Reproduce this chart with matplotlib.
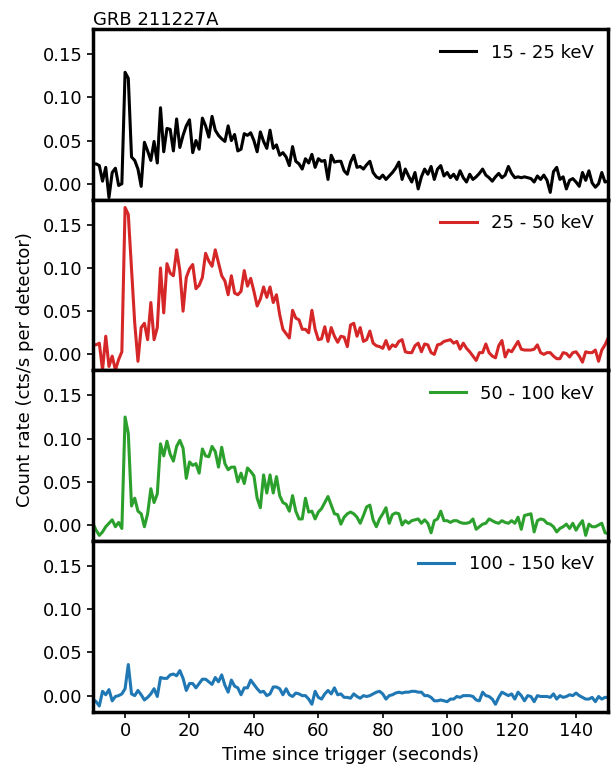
import numpy as np
import matplotlib
matplotlib.use("Agg")
import matplotlib.pyplot as plt

time = np.arange(-10, 151, 1)

rate_15_25 = [
    0.023, 0.023, 0.021, 0.003, 0.019, -0.016, 0.013, 0.018, -0.002, 0.000,
    0.129, 0.122, 0.031, 0.027, 0.017, -0.003, 0.048, 0.038, 0.027, 0.049,
    0.024, 0.088, 0.037, 0.064, 0.063, 0.038, 0.075, 0.042, 0.056, 0.067,
    0.074, 0.036, 0.050, 0.040, 0.076, 0.067, 0.054, 0.078, 0.062, 0.056,
    0.052, 0.049, 0.067, 0.050, 0.057, 0.038, 0.040, 0.058, 0.056, 0.059,
    0.050, 0.037, 0.060, 0.049, 0.041, 0.062, 0.041, 0.045, 0.033, 0.036,
    0.031, 0.021, 0.043, 0.026, 0.023, 0.017, 0.029, 0.024, 0.034, 0.019,
    0.029, 0.026, 0.027, 0.005, 0.033, 0.025, 0.026, 0.026, 0.015, 0.011,
    0.025, 0.033, 0.019, 0.020, 0.017, 0.022, 0.026, 0.013, 0.008, 0.006,
    0.010, 0.005, 0.009, 0.013, 0.018, 0.025, 0.005, 0.017, 0.009, 0.002,
    0.013, -0.006, 0.008, 0.017, 0.011, 0.020, 0.005, 0.017, 0.021, 0.009,
    0.013, 0.007, 0.011, 0.005, 0.015, 0.007, 0.002, 0.011, 0.005, 0.008,
    0.012, 0.017, 0.010, 0.007, 0.003, 0.008, 0.012, 0.007, 0.010, 0.020,
    0.012, 0.007, 0.008, 0.007, 0.008, 0.007, 0.006, 0.002, 0.009, 0.005,
    0.010, 0.004, -0.010, 0.014, 0.019, 0.005, 0.008, -0.006, 0.004, 0.006,
    0.002, -0.003, 0.013, 0.004, 0.015, 0.001, -0.004, 0.000, 0.013, 0.002,
    0.003,
]

rate_25_50 = [
    0.012, 0.011, 0.013, -0.018, 0.021, -0.014, -0.002, -0.018, -0.006, 0.003,
    0.170, 0.162, 0.098, 0.036, -0.008, 0.031, 0.036, 0.017, 0.060, 0.017,
    0.031, 0.100, 0.048, 0.105, 0.094, 0.091, 0.121, 0.097, 0.050, 0.089,
    0.099, 0.104, 0.076, 0.080, 0.089, 0.117, 0.108, 0.102, 0.121, 0.106,
    0.091, 0.085, 0.069, 0.091, 0.071, 0.069, 0.073, 0.097, 0.079, 0.088,
    0.073, 0.056, 0.064, 0.078, 0.066, 0.078, 0.060, 0.069, 0.046, 0.029,
    0.024, 0.019, 0.051, 0.042, 0.040, 0.029, 0.029, 0.025, 0.051, 0.029,
    0.017, 0.018, 0.032, 0.015, 0.031, 0.021, 0.014, 0.021, 0.020, 0.009,
    0.034, 0.036, 0.021, 0.031, 0.015, 0.017, 0.027, 0.013, 0.010, 0.009,
    0.007, 0.016, 0.006, 0.011, 0.009, 0.015, 0.017, 0.003, 0.002, 0.002,
    0.010, 0.013, 0.003, 0.012, 0.011, 0.002, 0.000, 0.011, 0.012, 0.015,
    0.016, 0.017, 0.013, 0.015, 0.006, 0.013, 0.007, 0.003, -0.002, -0.007,
    0.002, 0.002, 0.012, 0.002, -0.002, -0.004, 0.010, 0.016, -0.003, 0.005,
    0.003, 0.009, 0.015, 0.006, 0.005, 0.005, 0.005, 0.006, 0.011, 0.002,
    0.000, 0.002, 0.002, -0.002, -0.005, -0.005, 0.002, 0.001, -0.003, 0.002,
    0.003, -0.002, -0.009, 0.003, 0.002, 0.002, 0.005, -0.008, 0.005, 0.011,
    0.019,
]

rate_50_100 = [
    0.002, -0.006, -0.012, -0.008, -0.002, 0.002, 0.006, -0.002, 0.003, -0.004,
    0.125, 0.106, 0.022, 0.031, 0.016, 0.013, -0.002, 0.013, 0.042, 0.026,
    0.036, 0.094, 0.080, 0.097, 0.082, 0.074, 0.091, 0.098, 0.089, 0.054,
    0.073, 0.069, 0.071, 0.060, 0.088, 0.080, 0.079, 0.091, 0.085, 0.067,
    0.090, 0.071, 0.064, 0.067, 0.067, 0.050, 0.060, 0.048, 0.066, 0.062,
    0.057, 0.031, 0.020, 0.058, 0.037, 0.058, 0.037, 0.056, 0.034, 0.026,
    0.024, 0.016, 0.034, 0.016, 0.007, 0.007, 0.031, 0.015, 0.016, 0.007,
    0.015, 0.019, 0.026, 0.033, 0.023, 0.013, 0.012, 0.001, 0.009, 0.013,
    0.015, 0.013, 0.009, 0.002, 0.011, 0.021, 0.023, 0.006, -0.002, 0.007,
    0.013, 0.020, 0.002, 0.012, 0.014, 0.013, 0.000, 0.005, 0.002, 0.005,
    0.006, 0.007, 0.002, 0.006, 0.002, -0.009, 0.005, 0.007, 0.016, 0.005,
    0.005, 0.003, 0.005, 0.005, 0.003, 0.002, 0.002, 0.003, 0.007, -0.005,
    -0.002, 0.001, 0.002, 0.007, 0.005, 0.003, 0.002, 0.005, 0.003, 0.002,
    0.005, 0.002, 0.009, -0.005, 0.011, 0.012, 0.013, -0.008, 0.005, 0.007,
    0.006, 0.002, 0.001, -0.002, -0.008, -0.004, -0.002, 0.001, -0.004, 0.002,
    -0.006, 0.000, 0.005, -0.012, 0.001, -0.002, -0.002, 0.000, 0.002, -0.009,
    -0.010,
]

rate_100_150 = [
    -0.004, -0.007, -0.012, 0.005, 0.001, 0.007, -0.006, -0.001, 0.000, 0.002,
    0.008, 0.036, 0.002, 0.000, 0.006, 0.001, -0.005, -0.002, 0.002, 0.008,
    -0.001, 0.021, 0.020, 0.020, 0.024, 0.025, 0.023, 0.029, 0.020, 0.006,
    0.014, 0.014, 0.009, 0.014, 0.019, 0.019, 0.016, 0.013, 0.021, 0.016,
    0.024, 0.012, 0.004, 0.018, 0.011, 0.009, 0.001, 0.009, 0.009, 0.018,
    0.013, 0.008, 0.004, 0.005, 0.000, 0.002, 0.010, 0.010, 0.008, 0.001,
    0.008, 0.001, -0.001, 0.003, 0.002, 0.000, 0.000, -0.004, -0.010, 0.005,
    -0.002, -0.004, 0.002, 0.006, 0.002, 0.009, 0.001, 0.002, -0.002, -0.002,
    -0.003, 0.002, -0.001, -0.003, 0.000, -0.001, 0.000, 0.002, 0.004, 0.005,
    0.002, -0.004, 0.000, 0.001, 0.003, 0.004, 0.003, 0.004, 0.004, 0.005,
    0.005, 0.004, 0.004, 0.000, 0.000, -0.002, -0.006, -0.006, -0.005, -0.006,
    -0.007, -0.004, -0.004, -0.001, -0.002, 0.000, 0.000, 0.000, -0.001, -0.005,
    -0.006, 0.004, 0.000, -0.001, -0.004, -0.010, -0.002, 0.004, 0.002, 0.000,
    0.002, -0.004, 0.004, 0.000, -0.006, 0.000, -0.001, -0.007, 0.000, -0.001,
    -0.001, -0.001, -0.002, 0.002, -0.004, 0.000, -0.002, -0.001, 0.001, 0.000,
    0.003, 0.000, -0.002, -0.004, -0.004, -0.002, -0.007, -0.001, -0.004, -0.002,
    -0.002,
]

series = [rate_15_25, rate_25_50, rate_50_100, rate_100_150]
labels = ["15 - 25 keV", "25 - 50 keV", "50 - 100 keV", "100 - 150 keV"]
colors = ["black", "#d62728", "#2ca02c", "#1f77b4"]
yticks = [0.00, 0.05, 0.10, 0.15]

fig = plt.figure(figsize=(6.15, 7.66), dpi=100)
gs = fig.add_gridspec(4, 1, left=0.151, right=0.989, top=0.962, bottom=0.071, hspace=0)
axes = []
for i in range(4):
    ax = fig.add_subplot(gs[i], sharex=axes[0] if axes else None)
    axes.append(ax)
    ax.plot(time, series[i], color=colors[i], lw=2.2, label=labels[i])
    ax.set_xlim(-10, 150)
    ax.set_ylim(-0.0185, 0.179)
    ax.set_yticks(yticks)
    ax.set_yticklabels([f"{v:.2f}" for v in yticks])
    ax.tick_params(labelsize=13, width=1.2, length=4)
    for s in ax.spines.values():
        s.set_linewidth(2.5)
    ax.legend(loc="upper right", frameon=False, fontsize=13, handlelength=2.0,
              borderaxespad=0.4, handletextpad=0.8)
    if i < 3:
        ax.tick_params(labelbottom=False)

axes[-1].set_xticks([0, 20, 40, 60, 80, 100, 120, 140])
axes[-1].set_xlabel("Time since trigger (seconds)", fontsize=13)
axes[0].set_title("GRB 211227A", loc="left", fontsize=13, pad=2)
fig.text(0.04, 0.517, "Count rate (cts/s per detector)", rotation=90,
         va="center", ha="center", fontsize=13)

fig.savefig("out.png", dpi=100)
